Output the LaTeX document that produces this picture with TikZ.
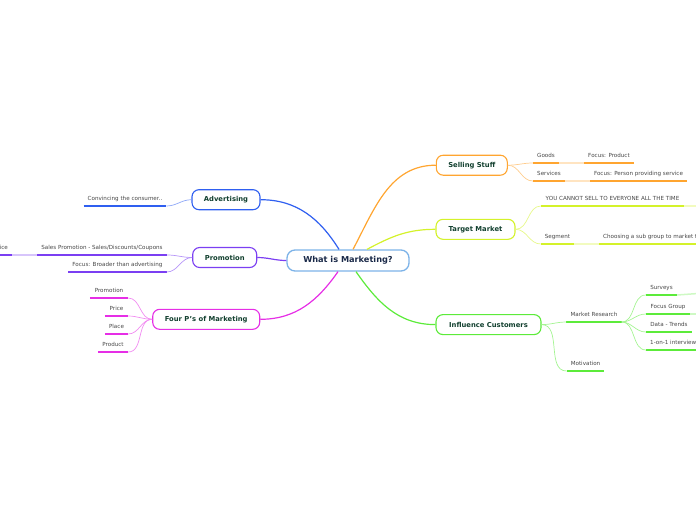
\documentclass[tikz,border=0pt]{standalone}
\usepackage{fontspec}
\setmainfont{DejaVu Sans}
\usepackage{xcolor}
\definecolor{ink}{HTML}{1B2A49}
\definecolor{topictext}{HTML}{12402F}
\definecolor{leaftext}{HTML}{474747}
\definecolor{core}{HTML}{7DB3E8}
\definecolor{advblue}{HTML}{2F5FF0}
\definecolor{promo}{HTML}{7B3FF2}
\definecolor{magenta}{HTML}{E62EE6}
\definecolor{orange}{HTML}{FFA530}
\definecolor{lime}{HTML}{D4F22A}
\definecolor{green}{HTML}{5CEB3A}

\tikzset{
  topic/.style={draw=#1, line width=1.1pt, rounded corners=7pt, fill=white,
    text=topictext, font=\fontsize{6.8}{8}\selectfont\bfseries,
    minimum height=20pt, inner xsep=2pt},
  leaf/.style={text=leaftext, font=\fontsize{5.6}{6.5}\selectfont,
    anchor=south, inner xsep=4pt, inner ysep=3.9pt, text depth=1.3pt},
  uline/.style={draw=#1, line width=1.5pt},
  branch/.style={draw=#1, line width=1.2pt},
  twig/.style={draw=#1!55, line width=0.7pt},
  chain/.style={draw=#1!30, line width=1.5pt}
}

\begin{document}
\begin{tikzpicture}[x=1pt,y=1pt]
\useasboundingbox (0,0) rectangle (696,-520);
\clip (0,0) rectangle (696,-520);

% centre and main topics
\node[draw=core, line width=1.3pt, rounded corners=8pt, fill=white, text=ink,
  font=\fontsize{8.2}{10}\selectfont\bfseries, minimum width=122pt,
  minimum height=21pt] (cen) at (348,-260.5) {What is Marketing?};
\node[topic=advblue, minimum width=68pt] (adv) at (226,-199.7) {Advertising};
\node[topic=promo, minimum width=64pt] (prm) at (224.7,-257.5) {Promotion};
\node[topic=magenta, minimum width=107pt] (fourp) at (206.2,-319.3) {Four P's of Marketing};
\node[topic=orange, minimum width=71pt] (sell) at (471.8,-165.2) {Selling Stuff};
\node[topic=lime, minimum width=79pt] (target) at (475.5,-229.3) {Target Market};
\node[topic=green, minimum width=105pt] (infl) at (488.5,-324.6) {Influence Customers};

\draw[branch=advblue] ([xshift=-9pt]cen.north) to[out=122,in=0] (adv.east);
\draw[branch=orange] ([xshift=5pt]cen.north) to[out=62,in=180] (sell.west);
\draw[branch=lime] ([xshift=19pt]cen.north) to[out=28,in=180] (target.west);
\draw[branch=promo] (cen.west) to[out=180,in=0] (prm.east);
\draw[branch=magenta] ([xshift=-10pt]cen.south) to[out=235,in=0] (fourp.east);
\draw[branch=green] ([xshift=8pt]cen.south) to[out=-55,in=180] (infl.west);

% left side leaves
\node[leaf, minimum width=80pt] (conv) at (125,-206) {Convincing the consumer..};
\node[leaf, minimum width=130pt] (salesp) at (102,-255) {Sales Promotion - Sales/Discounts/Coupons};
\node[leaf, anchor=south east] (serv) at (12,-255) {Service};
\node[leaf, minimum width=97pt] (broad) at (117.5,-272) {Focus: Broader than advertising};
\node[leaf, minimum width=38pt] (pprom) at (109,-298) {Promotion};
\node[leaf, minimum width=23pt] (pprice) at (116.5,-316) {Price};
\node[leaf, minimum width=23pt] (pplace) at (116.5,-334) {Place};
\node[leaf, minimum width=30pt] (pprod) at (113,-352) {Product};

% right side leaves
\node[leaf, minimum width=26pt] (goods) at (546,-163) {Goods};
\node[leaf, minimum width=50pt] (fprod) at (609,-163) {Focus: Product};
\node[leaf, minimum width=32pt] (services) at (549,-181) {Services};
\node[leaf, minimum width=97pt] (fpers) at (638.5,-181) {Focus: Person providing service};
\node[leaf, minimum width=143pt] (cannot) at (612.5,-206) {YOU CANNOT SELL TO EVERYONE ALL THE TIME};
\node[leaf, minimum width=33pt] (segment) at (557.5,-244) {Segment};
\node[leaf, anchor=south west] (subgrp) at (599,-244) {Choosing a sub group to market to};
\node[leaf, minimum width=54pt] (mres) at (594,-322) {Market Research};
\node[leaf, minimum width=37pt] (motiv) at (585.5,-371) {Motivation};
\node[leaf, minimum width=31pt] (surveys) at (661.5,-295) {Surveys};
\node[leaf, minimum width=44pt] (fgroup) at (668,-314) {Focus Group};
\node[leaf, minimum width=46pt] (dtrends) at (669,-332) {Data - Trends};
\node[leaf, anchor=south west] (oneone) at (646,-350) {1-on-1 interview};
\coordinate (cannotnext) at (705,-206);
\coordinate (surveysnext) at (705,-293);
\coordinate (fgroupnext) at (705,-314);

% underlines
\foreach \n/\c in {conv/advblue, salesp/promo, serv/promo, broad/promo,
    pprom/magenta, pprice/magenta, pplace/magenta, pprod/magenta,
    goods/orange, fprod/orange, services/orange, fpers/orange,
    cannot/lime, segment/lime, subgrp/lime,
    mres/green, motiv/green, surveys/green, fgroup/green, dtrends/green, oneone/green}
  \draw[uline=\c] (\n.south west) -- (\n.south east);

% twigs
\draw[twig=advblue] (adv.west) to[out=180,in=0] (conv.south east);
\draw[twig=promo] (prm.west) to[out=180,in=0] (salesp.south east);
\draw[twig=promo] (prm.west) to[out=180,in=0] (broad.south east);
\draw[chain=promo] (salesp.south west) -- (serv.south east);
\foreach \n in {pprom,pprice,pplace,pprod}
  \draw[twig=magenta] (fourp.west) to[out=180,in=0] (\n.south east);
\draw[twig=orange] (sell.east) to[out=0,in=180] (goods.south west);
\draw[twig=orange] (sell.east) to[out=0,in=180] (services.south west);
\draw[chain=orange] (goods.south east) -- (fprod.south west);
\draw[chain=orange] (services.south east) -- (fpers.south west);
\draw[twig=lime] (target.east) to[out=0,in=180] (cannot.south west);
\draw[twig=lime] (target.east) to[out=0,in=180] (segment.south west);
\draw[chain=lime] (segment.south east) -- (subgrp.south west);
\draw[chain=lime] (cannot.south east) -- (cannotnext);
\draw[twig=green] (infl.east) to[out=0,in=180] (mres.south west);
\draw[twig=green] (infl.east) to[out=0,in=180] (motiv.south west);
\foreach \n in {surveys,fgroup,dtrends,oneone}
  \draw[twig=green] (mres.south east) to[out=0,in=180] (\n.south west);
\draw[chain=green] (surveys.south east) -- (surveysnext);
\draw[chain=green] (fgroup.south east) -- (fgroupnext);
\end{tikzpicture}
\end{document}
